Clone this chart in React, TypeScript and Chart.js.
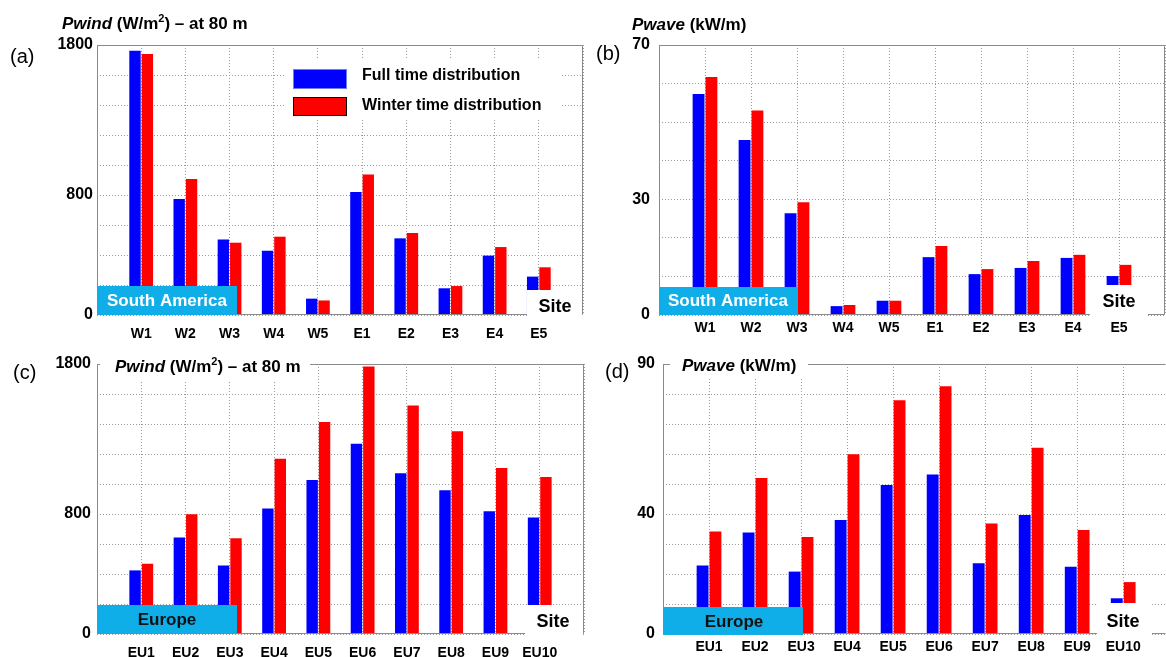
import React, { useEffect, useRef } from "react";
import { Chart, registerables } from "chart.js";

Chart.register(...registerables);

// ---------- data ----------
const saCategories = ["W1", "W2", "W3", "W4", "W5", "E1", "E2", "E3", "E4", "E5"];
const euCategories = ["EU1", "EU2", "EU3", "EU4", "EU5", "EU6", "EU7", "EU8", "EU9", "EU10"];

const seriesNames = ["Full time distribution", "Winter time distribution"];

const windSaFull = [1762, 773, 504, 429, 109, 820, 511, 178, 396, 256];
const windSaWinter = [1740, 907, 482, 522, 97, 936, 547, 193, 453, 318];

const waveSaFull = [57.3, 45.4, 26.4, 2.3, 3.7, 15.0, 10.6, 12.2, 14.8, 10.1];
const waveSaWinter = [61.7, 53.0, 29.2, 2.6, 3.7, 17.9, 11.9, 14.0, 15.6, 13.0];

const windEuFull = [424, 644, 456, 836, 1027, 1269, 1071, 958, 818, 776];
const windEuWinter = [469, 798, 638, 1169, 1413, 1784, 1524, 1351, 1107, 1047];

const waveEuFull = [22.8, 33.8, 20.8, 38.0, 49.7, 53.2, 23.6, 39.7, 22.4, 11.9];
const waveEuWinter = [34.2, 52.0, 32.3, 59.9, 77.9, 82.6, 36.8, 62.1, 34.7, 17.3];

const windTickLabels = [0, 800, 1800];
const waveSaTickLabels = [0, 30, 70];
const waveEuTickLabels = [0, 40, 90];

// ---------- styling ----------
const FAMILY = '"Liberation Sans", Arial, Helvetica, sans-serif';
const BLUE = "#0000ff";
const RED = "#ff0000";
const REGION = "#10aee8";
const FRAME = "#8a8a8a";
const GRID = "#9a9a9a";

type Part = { t: string; font: string; dy?: number };

function drawRich(ctx: CanvasRenderingContext2D, x: number, y: number, parts: Part[]) {
  let cx = x;
  ctx.textAlign = "left";
  ctx.textBaseline = "middle";
  ctx.fillStyle = "#000";
  for (const p of parts) {
    ctx.font = p.font;
    ctx.fillText(p.t, cx, y + (p.dy || 0));
    cx += ctx.measureText(p.t).width;
  }
}

const windTitle: Part[] = [
  { t: "Pwind", font: `italic bold 17px ${FAMILY}` },
  { t: " (W/m", font: `bold 17px ${FAMILY}` },
  { t: "2", font: `bold 11px ${FAMILY}`, dy: -5 },
  { t: ") \u2013 at 80 m", font: `bold 17px ${FAMILY}` },
];
const waveTitle: Part[] = [
  { t: "Pwave", font: `italic bold 17px ${FAMILY}` },
  { t: " (kW/m)", font: `bold 17px ${FAMILY}` },
];

type Spec = {
  ox: number;
  oy: number;
  w: number;
  h: number;
  padTop: number;
  padRight: number;
  yAxisW: number;
  xAxisH: number;
  xMax: number;
  yMax: number;
  yStep: number;
  yShown: number[];
  xTickPad: number;
  yTickPad: number;
  categories: string[];
  full: number[];
  winter: number[];
  drawRight: boolean;
  overlay: (ctx: CanvasRenderingContext2D, P: (x: number, y: number) => [number, number]) => void;
};

function regionBox(ctx: CanvasRenderingContext2D, P: any, x: number, y: number, w: number, h: number, text: string, color: string, cx: number, cy: number) {
  const [a, b] = P(x, y);
  ctx.fillStyle = REGION;
  ctx.fillRect(a, b, w, h);
  const [tx, ty] = P(cx, cy);
  ctx.font = `bold 17px ${FAMILY}`;
  ctx.fillStyle = color;
  ctx.textAlign = "center";
  ctx.textBaseline = "middle";
  ctx.fillText(text, tx, ty);
}

function siteBox(ctx: CanvasRenderingContext2D, P: any, x: number, y: number, w: number, h: number, cx: number, cy: number) {
  const [a, b] = P(x, y);
  ctx.fillStyle = "#ffffff";
  ctx.fillRect(a, b, w, h);
  const [tx, ty] = P(cx, cy);
  ctx.font = `bold 18px ${FAMILY}`;
  ctx.fillStyle = "#000";
  ctx.textAlign = "center";
  ctx.textBaseline = "middle";
  ctx.fillText("Site", tx, ty);
}

function letter(ctx: CanvasRenderingContext2D, P: any, x: number, y: number, t: string) {
  const [a, b] = P(x, y);
  ctx.font = `20px ${FAMILY}`;
  ctx.fillStyle = "#000";
  ctx.textAlign = "left";
  ctx.textBaseline = "middle";
  ctx.fillText(t, a, b);
}

function whiteRect(ctx: CanvasRenderingContext2D, P: any, x: number, y: number, w: number, h: number) {
  const [a, b] = P(x, y);
  ctx.fillStyle = "#ffffff";
  ctx.fillRect(a, b, w, h);
}

const specs: Spec[] = [
  {
    ox: 0, oy: 0, w: 586, h: 345, padTop: 45, padRight: 3, yAxisW: 97, xAxisH: 30,
    xMax: 11, yMax: 1800, yStep: 200, yShown: windTickLabels, xTickPad: 11, yTickPad: 4,
    categories: saCategories, full: windSaFull, winter: windSaWinter, drawRight: true,
    overlay: (ctx, P) => {
      letter(ctx, P, 10, 57, "(a)");
      const [tx, ty] = P(62, 24);
      drawRich(ctx, tx, ty, windTitle);
      // legend
      whiteRect(ctx, P, 285, 58, 275, 60);
      let [a, b] = P(293, 69);
      ctx.fillStyle = BLUE;
      ctx.fillRect(a, b, 54, 20);
      ctx.strokeStyle = "#6c7cff";
      ctx.lineWidth = 1;
      ctx.strokeRect(a + 0.5, b + 0.5, 53, 19);
      [a, b] = P(293, 97);
      ctx.fillStyle = RED;
      ctx.fillRect(a, b, 54, 19);
      ctx.strokeStyle = "#000";
      ctx.strokeRect(a + 0.5, b + 0.5, 53, 18);
      ctx.font = `bold 16px ${FAMILY}`;
      ctx.fillStyle = "#000";
      ctx.textAlign = "left";
      ctx.textBaseline = "middle";
      let [lx, ly] = P(362, 76);
      ctx.fillText(seriesNames[0], lx, ly);
      [lx, ly] = P(362, 106);
      ctx.fillText(seriesNames[1], lx, ly);
      regionBox(ctx, P, 97, 286, 140, 29, "South America", "#ffffff", 167, 301);
      siteBox(ctx, P, 527, 290, 55, 28, 555, 307);
    },
  },
  {
    ox: 586, oy: 0, w: 580, h: 345, padTop: 45, padRight: 1, yAxisW: 73, xAxisH: 30,
    xMax: 11, yMax: 70, yStep: 10, yShown: waveSaTickLabels, xTickPad: 5, yTickPad: 9,
    categories: saCategories, full: waveSaFull, winter: waveSaWinter, drawRight: true,
    overlay: (ctx, P) => {
      letter(ctx, P, 596, 54, "(b)");
      const [tx, ty] = P(632, 25);
      drawRich(ctx, tx, ty, waveTitle);
      regionBox(ctx, P, 659, 287, 139, 28, "South America", "#ffffff", 728, 301);
      siteBox(ctx, P, 1090, 285, 58, 33, 1119, 302);
    },
  },
  {
    ox: 0, oy: 345, w: 586, h: 312, padTop: 19, padRight: 2, yAxisW: 97, xAxisH: 23,
    xMax: 11, yMax: 1800, yStep: 200, yShown: windTickLabels, xTickPad: 11, yTickPad: 6,
    categories: euCategories, full: windEuFull, winter: windEuWinter, drawRight: true,
    overlay: (ctx, P) => {
      whiteRect(ctx, P, 100, 345, 210, 35);
      const [tx, ty] = P(115, 367);
      drawRich(ctx, tx, ty, windTitle);
      letter(ctx, P, 13, 373, "(c)");
      regionBox(ctx, P, 97, 605, 140, 29, "Europe", "#111111", 167, 620);
      siteBox(ctx, P, 525, 605, 58, 32, 553, 622);
    },
  },
  {
    ox: 586, oy: 345, w: 580, h: 312, padTop: 19, padRight: 0, yAxisW: 77, xAxisH: 23,
    xMax: 10.93, yMax: 90, yStep: 10, yShown: waveEuTickLabels, xTickPad: 5, yTickPad: 8,
    categories: euCategories, full: waveEuFull, winter: waveEuWinter, drawRight: false,
    overlay: (ctx, P) => {
      whiteRect(ctx, P, 670, 345, 138, 33);
      const [tx, ty] = P(682, 366);
      drawRich(ctx, tx, ty, waveTitle);
      letter(ctx, P, 605, 372, "(d)");
      regionBox(ctx, P, 663, 607, 140, 28, "Europe", "#111111", 734, 622);
      siteBox(ctx, P, 1097, 603, 55, 34, 1123, 622);
    },
  },
];

function buildConfig(spec: Spec): any {
  const toPoints = (vals: number[]) => vals.map((v, i) => ({ x: i + 1, y: v }));
  const P = (x: number, y: number): [number, number] => [x - spec.ox, y - spec.oy];
  const overlayPlugin = {
    id: "panelOverlay",
    afterDatasetsDraw(chart: any) {
      const ctx: CanvasRenderingContext2D = chart.ctx;
      const { left, right, top, bottom } = chart.chartArea;
      ctx.save();
      ctx.strokeStyle = FRAME;
      ctx.lineWidth = 1;
      ctx.setLineDash([]);
      const l = Math.round(left) + 0.5;
      const r = Math.round(right) - 0.5;
      const t = Math.round(top) + 0.5;
      const b = Math.round(bottom) - 0.5;
      ctx.beginPath();
      ctx.moveTo(l, t);
      ctx.lineTo(l, b);
      ctx.lineTo(r, b);
      if (spec.drawRight) {
        ctx.lineTo(r, t);
      } else {
        ctx.moveTo(r, t);
      }
      ctx.lineTo(l, t);
      ctx.stroke();
      spec.overlay(ctx, P);
      ctx.restore();
    },
  };
  const tickFontY = { family: FAMILY, size: 16, weight: "bold" as const };
  const tickFontX = { family: FAMILY, size: 14, weight: "bold" as const };
  return {
    type: "bar",
    data: {
      datasets: [
        { label: seriesNames[0], data: toPoints(spec.full), backgroundColor: BLUE, borderWidth: 0 },
        { label: seriesNames[1], data: toPoints(spec.winter), backgroundColor: RED, borderWidth: 0 },
      ],
    },
    options: {
      responsive: false,
      maintainAspectRatio: false,
      animation: false,
      devicePixelRatio: 1,
      layout: { padding: { left: 0, top: spec.padTop, right: spec.padRight, bottom: 0 } },
      plugins: { legend: { display: false }, tooltip: { enabled: false }, title: { display: false } },
      datasets: { bar: { categoryPercentage: 0.56, barPercentage: 0.92 } },
      scales: {
        x: {
          type: "linear",
          min: 0,
          max: spec.xMax,
          offset: false,
          ticks: {
            stepSize: 1,
            autoSkip: false,
            includeBounds: spec.xMax === 11,
            maxRotation: 0,
            minRotation: 0,
            padding: 0,
            color: "#000",
            font: tickFontX,
            callback: (v: number) => (Number.isInteger(v) ? spec.categories[v - 1] ?? "" : ""),
          },
          grid: {
            color: GRID,
            lineWidth: 1,
            drawTicks: true,
            tickLength: spec.xTickPad,
            tickColor: "rgba(0,0,0,0)",
            offset: false,
          },
          border: { display: false, dash: [1, 2] },
          afterFit: (s: any) => {
            s.height = spec.xAxisH;
          },
        },
        y: {
          type: "linear",
          min: 0,
          max: spec.yMax,
          ticks: {
            stepSize: spec.yStep,
            padding: spec.yTickPad,
            color: "#000",
            font: tickFontY,
            callback: (v: number) => (spec.yShown.includes(v) ? String(v) : ""),
          },
          grid: { color: GRID, lineWidth: 1, drawTicks: false },
          border: { display: false, dash: [1, 2] },
          afterFit: (s: any) => {
            s.width = spec.yAxisW;
          },
        },
      },
    },
    plugins: [overlayPlugin],
  };
}

function Panel({ spec }: { spec: Spec }) {
  const ref = useRef<HTMLCanvasElement>(null);
  useEffect(() => {
    const chart = new Chart(ref.current as HTMLCanvasElement, buildConfig(spec));
    return () => chart.destroy();
  }, [spec]);
  return (
    <canvas
      ref={ref}
      width={spec.w}
      height={spec.h}
      style={{ position: "absolute", left: spec.ox, top: spec.oy, width: spec.w, height: spec.h, display: "block" }}
    />
  );
}

export default function App() {
  return (
    <div
      style={{
        position: "absolute",
        left: 0,
        top: 0,
        width: 1166,
        height: 657,
        background: "#ffffff",
        overflow: "hidden",
      }}
    >
      {specs.map((s, i) => (
        <Panel key={i} spec={s} />
      ))}
    </div>
  );
}
